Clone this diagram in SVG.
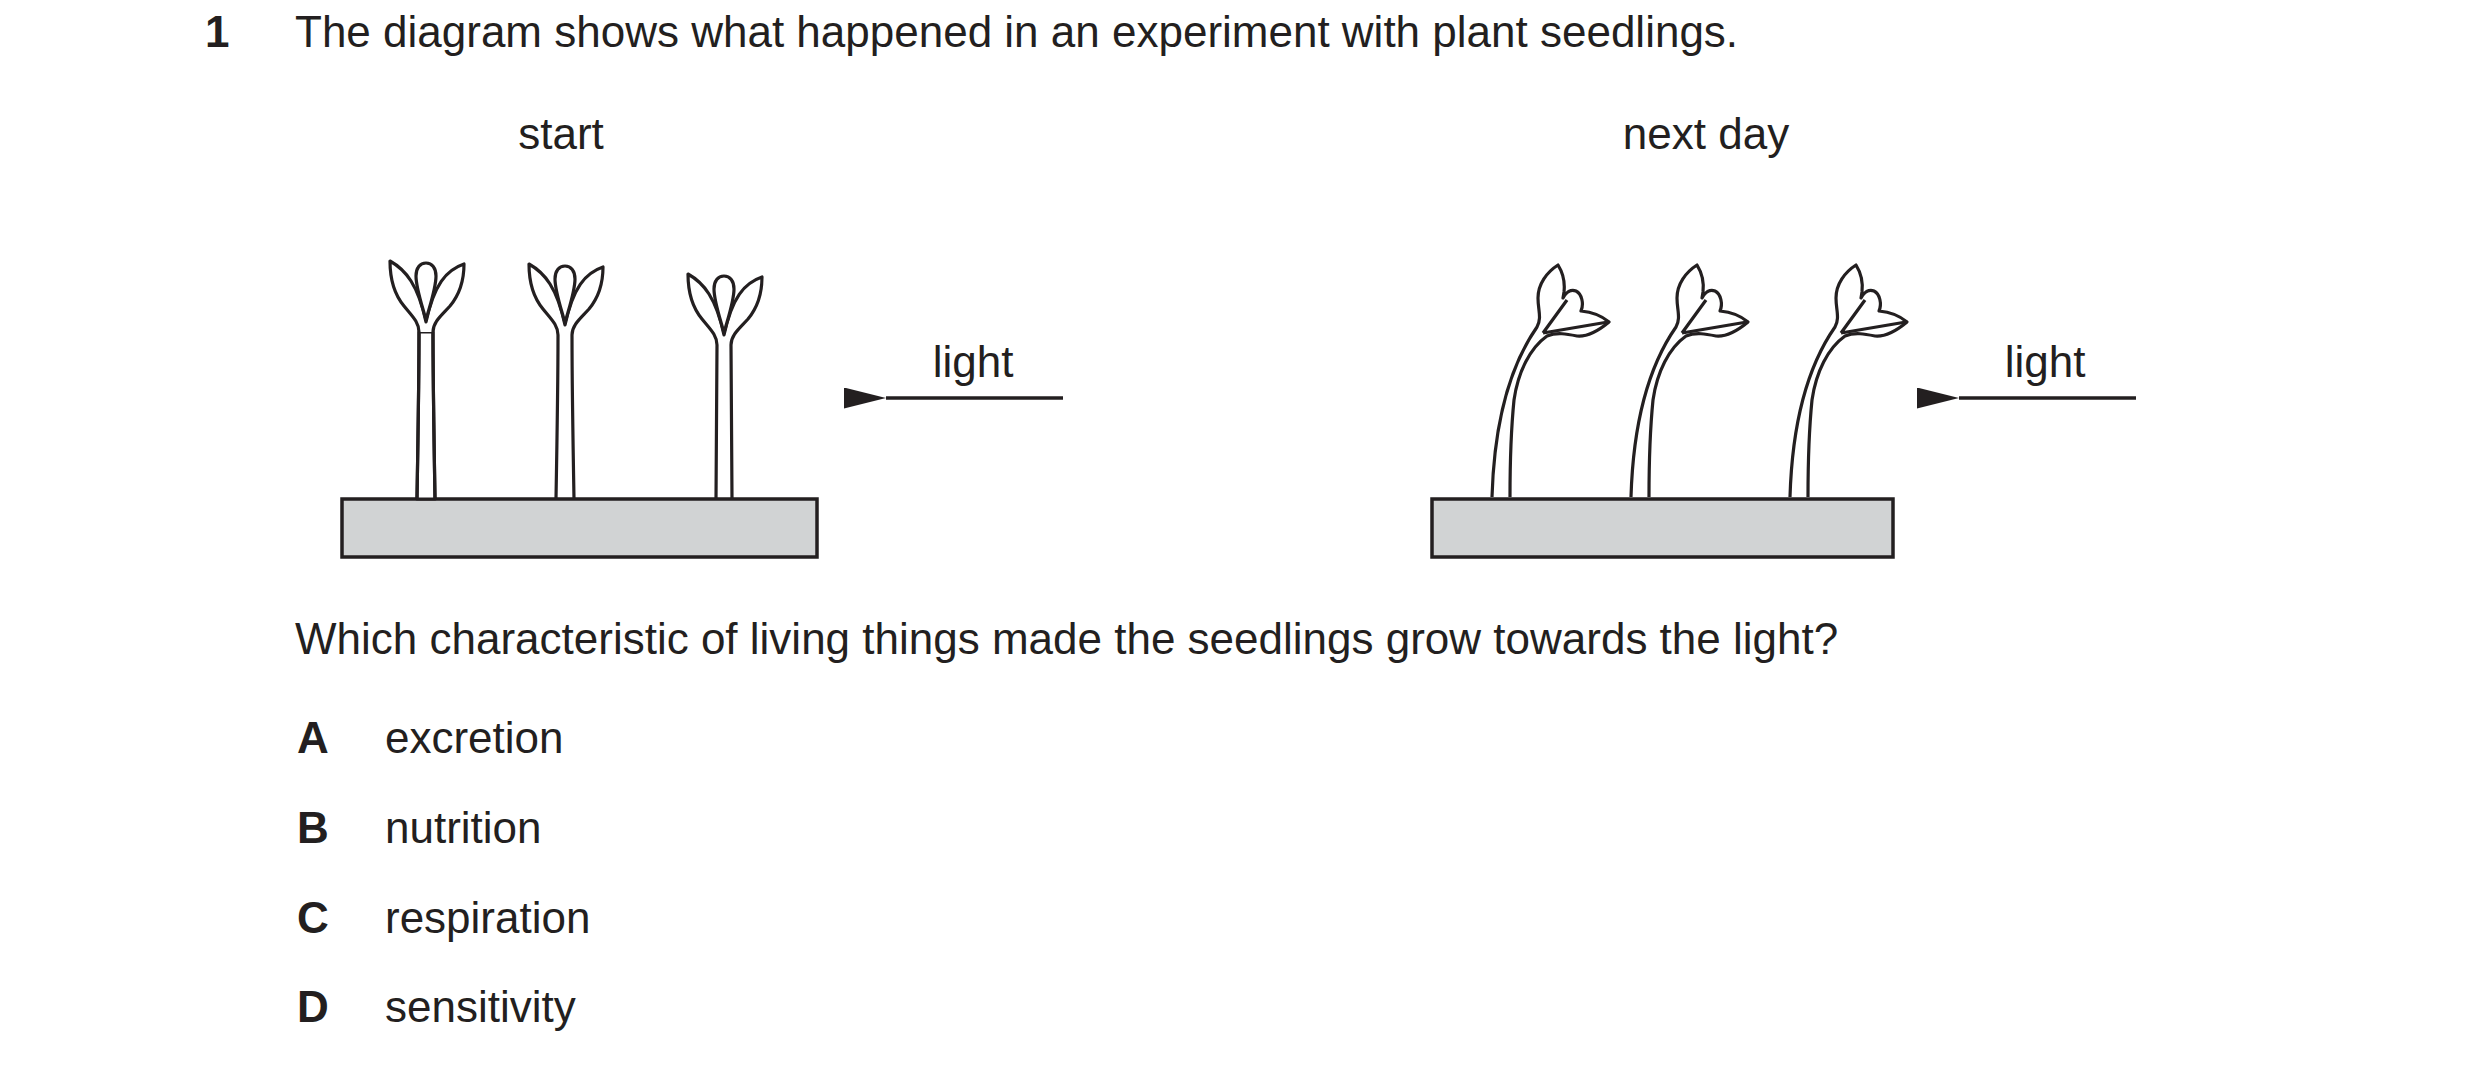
<svg xmlns="http://www.w3.org/2000/svg" width="2480" height="1073" viewBox="0 0 2480 1073">
<style>
text{font-family:"Liberation Sans",Arial,sans-serif;font-size:44px;fill:#231f20}
.b{font-weight:bold}
.pl{fill:#fff;stroke:#231f20;stroke-width:3.2;stroke-linejoin:round}
.ln{fill:none;stroke:#231f20;stroke-width:3.2}
.tray{fill:#d1d3d4;stroke:#231f20;stroke-width:3.5}
</style>
<defs>
<path id="bent" d="M0,497 C2,430 15,370 45,327 C50,318 46,310 46,298 C46,284 55,272 66,265 C71,273 73,283 72,292 L71,298 C74,292 79,289 84,291 C90,294 92,304 89,311 C100,312 110,316 117,322 C105,332 95,337 85,336 C75,334 65,332 55,336 C38,348 26,372 22,400 C19,430 18,470 18,497"/>
<path id="leaves" d="M-7,12 C-7,2 -14,-4 -22,-14 C-32,-26 -36,-42 -36,-59 C-20,-50 -8,-35 0,2 C8,-35 20,-50 38,-56 C38,-40 34,-26 24,-14 C15,-4 7,2 7,12"/>
<path id="drop" d="M0,0 C-4,-15 -10,-32 -10,-44 C-10,-52 -6,-57 0,-57 C6,-57 10,-52 10,-44 C10,-32 4,-15 0,0 Z"/>
<marker id="ah" markerWidth="12" markerHeight="6" refX="0" refY="3" orient="auto" markerUnits="strokeWidth" viewBox="0 0 12 6"><path d="M0,3 L12,0 L12,6 Z" fill="#231f20"/></marker>
</defs>
<text x="205" y="47" class="b">1</text>
<text x="295" y="47">The diagram shows what happened in an experiment with plant seedlings.</text>
<text x="561" y="149" text-anchor="middle">start</text>
<text x="1706" y="149" text-anchor="middle">next day</text>

<g id="start">
<rect class="tray" x="342" y="499" width="475" height="58"/>
<g id="s1" transform="translate(426,320)">
<path class="pl" d="M-9,179 C-8,120 -7,60 -7,12 L7,12 C7,60 8,120 9,179 Z" stroke="none"/>
<path class="ln" d="M-9,179 C-8,120 -7,60 -7,12 M7,12 C7,60 8,120 9,179"/>
<use href="#leaves" class="pl"/><use href="#drop" class="pl"/>
</g>
<g id="s2" transform="translate(565,323)">
<path class="ln" d="M-9,176 C-8,120 -7,60 -7,12 M7,12 C7,60 8,120 9,176"/>
<use href="#leaves" class="pl"/><use href="#drop" class="pl"/>
</g>
<g id="s3" transform="translate(724,333)">
<path class="ln" d="M-8,166 C-8,110 -7,60 -7,12 M7,12 C7,60 8,110 8,166"/>
<use href="#leaves" class="pl"/><use href="#drop" class="pl"/>
</g>
</g>

<g id="nextday">
<rect class="tray" x="1432" y="499" width="461" height="58"/>
<g id="b1" transform="translate(1492,0)"><use href="#bent" class="pl"/><path class="ln" d="M51,333 L75,300 M51,333 L116,322"/></g>
<g id="b2" transform="translate(1631,0)"><use href="#bent" class="pl"/><path class="ln" d="M51,333 L75,300 M51,333 L116,322"/></g>
<g id="b3" transform="translate(1790,0)"><use href="#bent" class="pl"/><path class="ln" d="M51,333 L75,300 M51,333 L116,322"/></g>
</g>

<g id="connectors">
<line x1="1063" y1="398" x2="886" y2="398" stroke="#231f20" stroke-width="3.5" marker-end="url(#ah)"/>
<line x1="2136" y1="398" x2="1959" y2="398" stroke="#231f20" stroke-width="3.5" marker-end="url(#ah)"/>
</g>
<text x="973" y="377" text-anchor="middle">light</text>
<text x="2045" y="377" text-anchor="middle">light</text>

<text x="295" y="654">Which characteristic of living things made the seedlings grow towards the light?</text>
<text x="297" y="753" class="b">A</text><text x="385" y="753">excretion</text>
<text x="297" y="843" class="b">B</text><text x="385" y="843">nutrition</text>
<text x="297" y="933" class="b">C</text><text x="385" y="933">respiration</text>
<text x="297" y="1022" class="b">D</text><text x="385" y="1022">sensitivity</text>
</svg>
